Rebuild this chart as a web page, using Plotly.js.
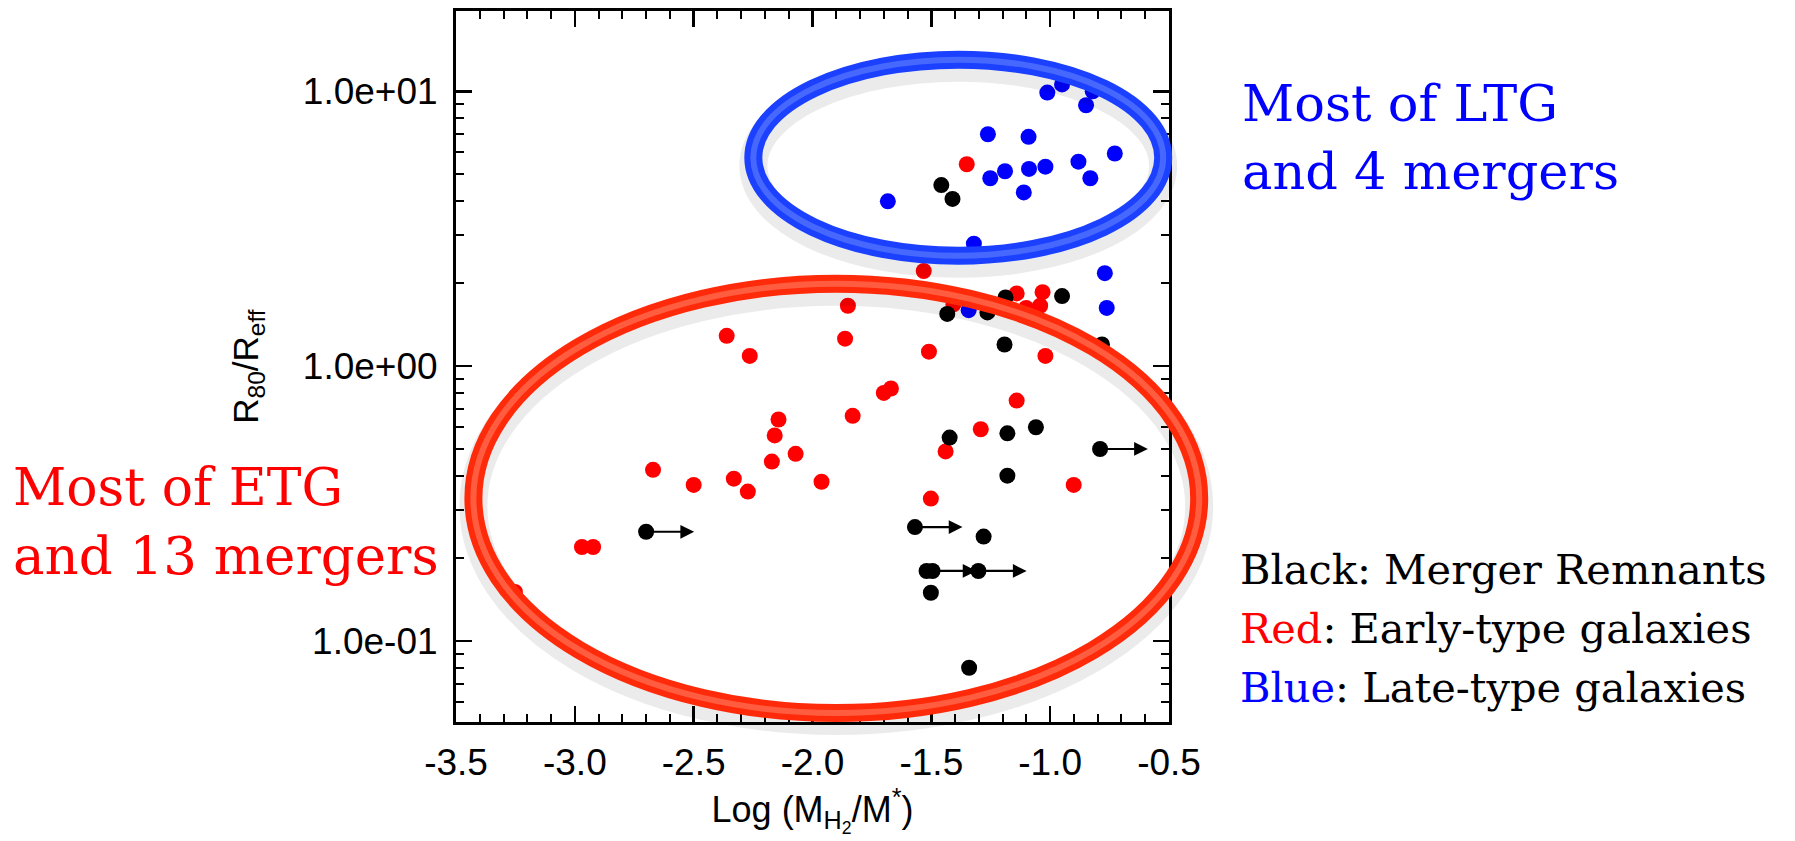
<!DOCTYPE html>
<html>
<head>
<meta charset="utf-8">
<script src="https://cdn.plot.ly/plotly-3.0.1.min.js"></script>
<style>
  html, body { margin: 0; padding: 0; background: #ffffff; }
  #chart { width: 1795px; height: 841px; }
</style>
</head>
<body>
<div id="chart"></div>
<script>
// ---------------- data ----------------
const blueX = [-1.012, -0.950, -0.821, -0.849, -1.262, -1.091, -0.728, -0.881, -1.020, -1.089,
               -1.190, -1.252, -0.831, -1.111, -1.683, -1.321, -0.770, -0.762, -1.343];
const blueY = [9.9, 10.6, 10.0, 8.9, 6.98, 6.83, 5.94, 5.55, 5.32, 5.22,
               5.12, 4.83, 4.83, 4.29, 3.98, 2.79, 2.18, 1.63, 1.60];

const redX = [-1.351, -1.532, -1.141, -1.032, -1.042, -1.101, -1.407, -1.851, -2.361, -1.863,
              -2.264, -1.510, -1.020, -1.700, -1.670, -1.141, -2.143, -1.831, -2.159, -1.292,
              -2.071, -2.171, -1.440, -2.671, -2.500, -2.331, -2.272, -1.962, -0.901, -1.502,
              -2.970, -2.923, -3.252];
const redY = [5.43, 2.22, 1.84, 1.86, 1.66, 1.63, 1.68, 1.66, 1.29, 1.26,
              1.09, 1.13, 1.09, 0.80, 0.83, 0.75, 0.64, 0.66, 0.56, 0.59,
              0.48, 0.45, 0.49, 0.42, 0.37, 0.39, 0.35, 0.38, 0.37, 0.33,
              0.22, 0.22, 0.151];

const blackX = [-1.458, -1.411, -0.950, -1.188, -1.433, -1.264, -1.192, -0.782, -1.423, -1.180,
                -1.060, -0.790, -1.180, -2.700, -1.569, -1.280, -1.520, -1.495, -1.302, -1.502,
                -1.341];
const blackY = [4.56, 4.06, 1.80, 1.78, 1.55, 1.57, 1.20, 1.20, 0.55, 0.57,
                0.60, 0.50, 0.40, 0.25, 0.26, 0.24, 0.18, 0.18, 0.18, 0.150,
                0.080];

// lower-limit arrows (start at the point, pointing right)
const arrowX0 = [-2.700, -1.569, -1.507, -1.302, -0.790];
const arrowX1 = [-2.498, -1.369, -1.310, -1.099, -0.589];
const arrowY  = [0.25, 0.26, 0.18, 0.18, 0.50];

const xTickVals = [-3.5, -3.0, -2.5, -2.0, -1.5, -1.0, -0.5];
const xTickText = ['-3.5', '-3.0', '-2.5', '-2.0', '-1.5', '-1.0', '-0.5'];
const yTickVals = [0.1, 1, 10];
const yTickText = ['1.0e-01', '1.0e+00', '1.0e+01'];

// ---------------- layout helpers ----------------
const W = 1795, H = 841;
const L = 455.6, R = 1168.8, T = 11.4, B = 722;
const pw = R - L, ph = B - T;
const px = v => (v - L) / pw;        // pixel -> paper x
const py = v => (B - v) / ph;        // pixel -> paper y

const markerBase = { size: 16, line: { width: 0 } };
const traces = [
  { x: redX, y: redY, type: 'scatter', mode: 'markers', name: 'Early-type',
    marker: Object.assign({ color: '#ff0000' }, markerBase), hoverinfo: 'x+y' },
  { x: blueX, y: blueY, type: 'scatter', mode: 'markers', name: 'Late-type',
    marker: Object.assign({ color: '#0000ff' }, markerBase), hoverinfo: 'x+y' },
  { x: blackX, y: blackY, type: 'scatter', mode: 'markers', name: 'Merger',
    marker: Object.assign({ color: '#000000' }, markerBase), hoverinfo: 'x+y' }
];

const annotations = [];
for (let i = 0; i < arrowY.length; i++) {
  annotations.push({
    x: arrowX1[i], y: Math.log10(arrowY[i]), xref: 'x', yref: 'y',
    ax: arrowX0[i], ay: Math.log10(arrowY[i]), axref: 'x', ayref: 'y',
    text: '', showarrow: true, arrowhead: 2, arrowsize: 1.25, arrowwidth: 2.2,
    arrowcolor: '#000000', standoff: 0, startstandoff: 0
  });
}

const bigFont = { family: 'DejaVu Serif, serif', size: 51 };
const legFont = { family: 'DejaVu Serif, serif', size: 41.5, color: '#000000' };
function txt(text, xpx, ypx, font) {
  annotations.push({ text: text, xref: 'paper', yref: 'paper', x: px(xpx), y: py(ypx),
    xanchor: 'left', yanchor: 'middle', align: 'left', showarrow: false, font: font });
}
txt('Most of LTG', 1240, 104, Object.assign({ color: '#0000ff' }, bigFont));
txt('and 4 mergers', 1240, 172, Object.assign({ color: '#0000ff' }, bigFont));
txt('Most of ETG', 10, 487, Object.assign({ color: '#ff0000', size: 52 }, { family: bigFont.family }));
txt('and 13 mergers', 10, 556, Object.assign({ color: '#ff0000', size: 53 }, { family: bigFont.family }));
txt('Black: Merger Remnants', 1238, 570, legFont);
txt('<span style="color:#ff0000">Red</span>: Early-type galaxies', 1238, 629, legFont);
txt('<span style="color:#0000ff">Blue</span>: Late-type galaxies', 1238, 688, legFont);

// ellipses (decorations, paper coordinates derived from pixel geometry)
function ell(x0, x1, y0, y1, color, width, dy) {
  return { type: 'circle', xref: 'paper', yref: 'paper', layer: 'above',
    x0: px(x0), x1: px(x1), y0: py(y1 + (dy || 0)), y1: py(y0 + (dy || 0)),
    line: { color: color, width: width }, fillcolor: 'rgba(0,0,0,0)' };
}
const shapes = [
  ell(753, 1163, 60, 256, 'rgba(0,0,0,0.08)', 28, 8),
  ell(753, 1163, 60, 256, '#1b40ff', 18),
  ell(753, 1163, 60, 256, '#4668ff', 6),
  ell(473, 1199, 284, 713, 'rgba(0,0,0,0.08)', 28, 8),
  ell(473, 1199, 284, 713, '#ff2a0a', 18),
  ell(473, 1199, 284, 713, '#ff5c40', 6)
];

const axisCommon = {
  showline: true, linecolor: '#000000', linewidth: 3, mirror: 'allticks',
  ticks: 'inside', ticklen: 16, tickwidth: 2.5, tickcolor: '#000000',
  showgrid: false, zeroline: false
};

const layout = {
  width: W, height: H,
  margin: { l: L, r: W - R, t: T, b: H - B, pad: 0 },
  paper_bgcolor: '#ffffff', plot_bgcolor: '#ffffff',
  showlegend: false,
  font: { family: 'Liberation Sans, Arial, sans-serif', color: '#000000' },
  xaxis: Object.assign({}, axisCommon, {
    range: [-3.5, -0.5], tickmode: 'array', tickvals: xTickVals, ticktext: xTickText,
    tickfont: { size: 37 }, ticklabelstandoff: 6,
    minor: { ticks: 'inside', ticklen: 8, tickwidth: 2, tickcolor: '#000000', dtick: 0.1, tick0: -3.5, showgrid: false },
    title: { text: 'Log (M<sub>H<sub>2</sub></sub>/M<sup>*</sup>)', font: { size: 36 }, standoff: 4 }
  }),
  yaxis: Object.assign({}, axisCommon, {
    type: 'log', range: [Math.log10(0.0508), Math.log10(19.6)],
    tickmode: 'array', tickvals: yTickVals, ticktext: yTickText,
    tickfont: { size: 37 }, ticklabelstandoff: 8,
    minor: { ticks: 'inside', ticklen: 8, tickwidth: 2, tickcolor: '#000000', dtick: 'D1', showgrid: false },
    title: { text: 'R<sub>80</sub>/R<sub>eff</sub>', font: { size: 35 }, standoff: 34 }
  }),
  annotations: annotations,
  shapes: shapes
};

Plotly.newPlot('chart', traces, layout, { displayModeBar: false, staticPlot: true });
</script>
</body>
</html>
